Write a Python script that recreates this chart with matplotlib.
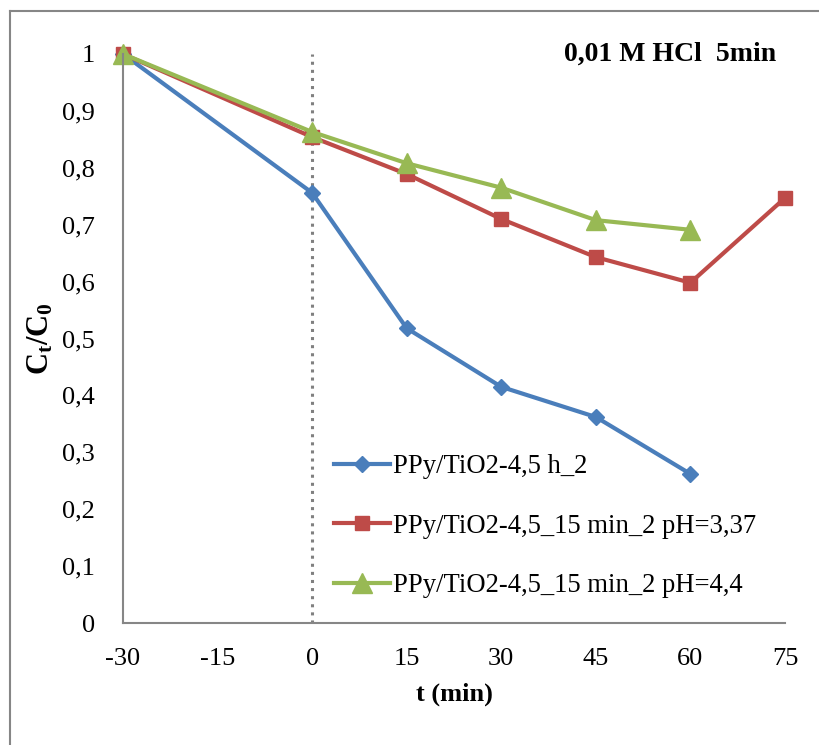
import matplotlib.pyplot as plt
from matplotlib.lines import Line2D

plt.rcParams['font.family'] = 'Liberation Serif'
plt.rcParams['mathtext.fontset'] = 'custom'
plt.rcParams['mathtext.rm'] = 'Liberation Serif'
plt.rcParams['mathtext.bf'] = 'Liberation Serif:bold'
plt.rcParams['mathtext.it'] = 'Liberation Serif:italic'

t_blue = [-30, 0, 15, 30, 45, 60]
c_blue = [1.0, 0.756, 0.518, 0.415, 0.362, 0.262]
t_red = [-30, 0, 15, 30, 45, 60, 75]
c_red = [1.0, 0.854, 0.789, 0.710, 0.643, 0.598, 0.747]
t_green = [-30, 0, 15, 30, 45, 60]
c_green = [1.0, 0.863, 0.808, 0.765, 0.708, 0.691]

labels = ['PPy/TiO2-4,5 h_2',
          'PPy/TiO2-4,5_15 min_2 pH=3,37',
          'PPy/TiO2-4,5_15 min_2 pH=4,4']
xticks = [-30, -15, 0, 15, 30, 45, 60, 75]
yticks = [0, 0.1, 0.2, 0.3, 0.4, 0.5, 0.6, 0.7, 0.8, 0.9, 1]
ytick_labels = ['0', '0,1', '0,2', '0,3', '0,4', '0,5', '0,6', '0,7', '0,8', '0,9', '1']

fig = plt.figure(figsize=(8.19, 7.45), dpi=100)
ax = fig.add_axes([123/819, 1-623/745, 662/819, 569/745])

ax.axvline(0, color='#808080', ls=':', lw=2.2, ymin=0, ymax=1)
ax.plot(t_blue, c_blue, color='#4A7EBB', lw=3, marker='D', ms=8, label=labels[0], clip_on=False)
ax.plot(t_red, c_red, color='#BE4B48', lw=3, marker='s', ms=9.5, label=labels[1], clip_on=False)
ax.plot(t_green, c_green, color='#98B954', lw=3, marker='^', ms=14, label=labels[2], clip_on=False)

ax.set_xlim(-30, 75)
ax.set_ylim(0, 1)
ax.set_xticks(xticks)
ax.set_xticklabels([str(v) for v in xticks])
ax.set_yticks(yticks)
ax.set_yticklabels(ytick_labels)
ax.tick_params(length=0, labelsize=19)
ax.tick_params(axis='y', pad=20)
ax.tick_params(axis='x', pad=18)
for s in ['top', 'right']:
    ax.spines[s].set_visible(False)
for s in ['left', 'bottom']:
    ax.spines[s].set_color('#868686')
    ax.spines[s].set_linewidth(1.5)

ax.set_xlabel('t (min)', fontsize=19, fontweight='bold', labelpad=9)
ax.set_ylabel(r'$\mathbf{C_t/C_0}$', fontsize=22, labelpad=5)
ax.text(0.826, 1.0, '0,01 M HCl  5min', transform=ax.transAxes, fontsize=20,
        fontweight='bold', ha='center', va='center')

ax.legend(loc='upper left', bbox_to_anchor=(0.303, 0.316), frameon=False, fontsize=19.2,
          handlelength=2.1, handletextpad=0.1, labelspacing=1.3, borderaxespad=0)

fig.add_artist(Line2D([10/819, 10/819], [0, 1-11/745], color='#868686', lw=1.5))
fig.add_artist(Line2D([10/819, 1], [1-11/745, 1-11/745], color='#868686', lw=1.5))

fig.savefig('out.png', dpi=100)
